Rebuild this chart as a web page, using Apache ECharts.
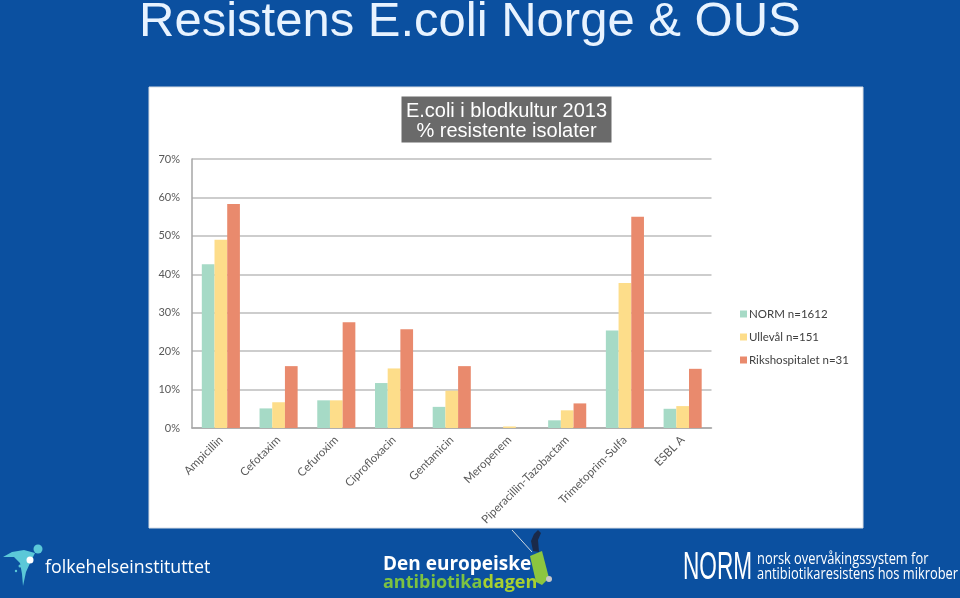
<!DOCTYPE html>
<html>
<head>
<meta charset="utf-8">
<script src="https://cdn.jsdelivr.net/npm/echarts@6/dist/echarts.min.js"></script>
<style>
html,body{margin:0;padding:0;background:#0b50a0;}
#c{width:960px;height:598px;}
</style>
</head>
<body>
<div id="c"></div>
<script>
// ---- data ----
var categories = ['Ampicillin','Cefotaxim','Cefuroxim','Ciprofloxacin','Gentamicin','Meropenem','Piperacillin-Tazobactam','Trimetoprim-Sulfa','ESBL A'];
var seriesNames = ['NORM n=1612','Ullevål n=151','Rikshospitalet n=31'];
var normValues = [42.6, 5.1, 7.2, 11.7, 5.5, 0, 2.0, 25.4, 5.0];
var ullevalValues = [49.0, 6.7, 7.2, 15.5, 9.7, 0.4, 4.6, 37.7, 5.7];
var rikshospValues = [58.3, 16.1, 27.5, 25.7, 16.1, 0, 6.4, 55.0, 15.4];
var yTicks = [0, 10, 20, 30, 40, 50, 60, 70];
var slideTitle = 'Resistens E.coli Norge & OUS';
var chartTitleLines = ['E.coli i blodkultur 2013', '% resistente isolater'];

var colors = ['#a6dac6', '#fddd8a', '#e98a6d'];
var chart = echarts.init(document.getElementById('c'), null, {renderer:'canvas'});
var labelFont = 'Lato, "Open Sans", sans-serif';

var option = {
  backgroundColor: '#0b50a0',
  animation: false,
  color: colors,
  grid: {left: 192, right: 248.5, top: 159, bottom: 170, containLabel: false},
  legend: {
    orient: 'vertical', left: 735, top: 302,
    icon: 'rect', itemWidth: 7, itemHeight: 7, itemGap: 9,
    textStyle: {color: '#404040', fontSize: 11.5, fontFamily: labelFont, lineHeight: 14, padding: [0, 0, 0, -3]},
    data: seriesNames
  },
  xAxis: {
    type: 'category', data: categories,
    axisLine: {show: true, lineStyle: {color: '#a6a6a6', width: 1.5}},
    axisTick: {show: false},
    axisLabel: {rotate: 45, color: '#595959', fontSize: 11.5, fontFamily: labelFont, margin: 10, interval: 0}
  },
  yAxis: {
    type: 'value', min: yTicks[0], max: yTicks[yTicks.length-1], interval: 10,
    axisLine: {show: true, lineStyle: {color: '#a6a6a6', width: 1.5}},
    axisTick: {show: false},
    splitLine: {lineStyle: {color: '#bdbdbd', width: 1.5}},
    axisLabel: {formatter: '{value}%', color: '#595959', fontSize: 11, fontFamily: labelFont, margin: 12}
  },
  series: [
    {name: seriesNames[0], type: 'bar', data: normValues, barGap: '0%', barCategoryGap: '34%'},
    {name: seriesNames[1], type: 'bar', data: ullevalValues, barGap: '0%', barCategoryGap: '34%'},
    {name: seriesNames[2], type: 'bar', data: rikshospValues, barGap: '0%', barCategoryGap: '34%'}
  ],
  graphic: [
    // white chart panel
    {type: 'rect', z: -10, shape: {x: 149, y: 87, width: 714, height: 441},
     style: {fill: '#ffffff', stroke: '#d8dde4', lineWidth: 1}},
    // slide title
    {type: 'text', x: 139, y: 47, z: 10,
     style: {text: slideTitle, fill: '#e8f3ff', font: '49px "Liberation Sans", Arial, sans-serif', textAlign: 'left', textVerticalAlign: 'bottom'}},
    // inner chart title box
    {type: 'rect', z: 5, shape: {x: 401.5, y: 96.5, width: 210, height: 46},
     style: {fill: '#6a6a6a'}},
    {type: 'text', x: 506.5, y: 111, z: 6,
     style: {text: chartTitleLines[0], fill: '#ffffff', font: '20px "Liberation Sans", Arial, sans-serif', textAlign: 'center', textVerticalAlign: 'middle'}},
    {type: 'text', x: 506.5, y: 131, z: 6,
     style: {text: chartTitleLines[1], fill: '#ffffff', font: '20px "Liberation Sans", Arial, sans-serif', textAlign: 'center', textVerticalAlign: 'middle'}},
    // folkehelseinstituttet logo
    {type: 'polygon', z: 6, shape: {points: [[3,557],[12,552],[24,550],[35,553],[31,561],[26,572],[23,586],[22,574],[20,563],[14,557]]}, smooth: 0.3,
     style: {fill: '#5bc8d8'}},
    {type: 'circle', z: 7, shape: {cx: 38, cy: 549, r: 4.5}, style: {fill: '#5bc8d8'}},
    {type: 'circle', z: 7, shape: {cx: 30, cy: 560, r: 3.5}, style: {fill: '#ffffff'}},
    {type: 'circle', z: 7, shape: {cx: 20, cy: 566, r: 1.5}, style: {fill: '#5bc8d8'}},
    {type: 'circle', z: 7, shape: {cx: 16, cy: 571, r: 1.2}, style: {fill: '#5bc8d8'}},
    {type: 'text', x: 45, y: 568, z: 6,
     style: {text: 'folkehelseinstituttet', fill: '#ffffff', font: '17.8px "Open Sans", sans-serif', textAlign: 'left', textVerticalAlign: 'middle'}},
    // Den europeiske antibiotikadagen
    {type: 'text', x: 383, y: 565, z: 6,
     style: {text: 'Den europeiske', fill: '#ffffff', font: 'bold 19px "Open Sans", sans-serif', textAlign: 'left', textVerticalAlign: 'middle'}},
    {type: 'text', x: 383, y: 583, z: 6,
     style: {text: '{a|antibiotika}{b|dagen}', textAlign: 'left', textVerticalAlign: 'middle',
       rich: {a: {fill: '#7cc242', font: 'bold 18px "Open Sans", sans-serif'}, b: {fill: '#a8d030', font: 'bold 18px "Open Sans", sans-serif'}}}},
    {type: 'polygon', z: 6, shape: {points: [[530,556],[542,551],[549,578],[542,585],[536,582]]}, style: {fill: '#8cc63f'}},
    {type: 'circle', z: 7, shape: {cx: 549, cy: 579, r: 3}, style: {fill: '#c8c8c8'}},
    {type: 'line', z: 6, shape: {x1: 512, y1: 530, x2: 532, y2: 552}, style: {stroke: '#cfd8e0', lineWidth: 1}},
    {type: 'polygon', z: 7, shape: {points: [[533,551],[531,541],[534,534],[538,530],[541,533],[538,540],[539,552]]}, style: {fill: '#1a2a4a'}},
    // NORM
    {type: 'text', x: 683, y: 568, z: 6, scaleX: 0.58,
     style: {text: 'NORM', fill: '#ffffff', font: '39px "Liberation Sans", Arial, sans-serif', textAlign: 'left', textVerticalAlign: 'middle'}},
    {type: 'text', x: 757, y: 560, z: 6, scaleX: 0.83,
     style: {text: 'norsk overvåkingssystem for', fill: '#ffffff', font: '15.5px "Open Sans", sans-serif', textAlign: 'left', textVerticalAlign: 'middle'}},
    {type: 'text', x: 757, y: 575, z: 6, scaleX: 0.83,
     style: {text: 'antibiotikaresistens hos mikrober', fill: '#ffffff', font: '15.5px "Open Sans", sans-serif', textAlign: 'left', textVerticalAlign: 'middle'}}
  ]
};
chart.setOption(option);
</script>
</body>
</html>
